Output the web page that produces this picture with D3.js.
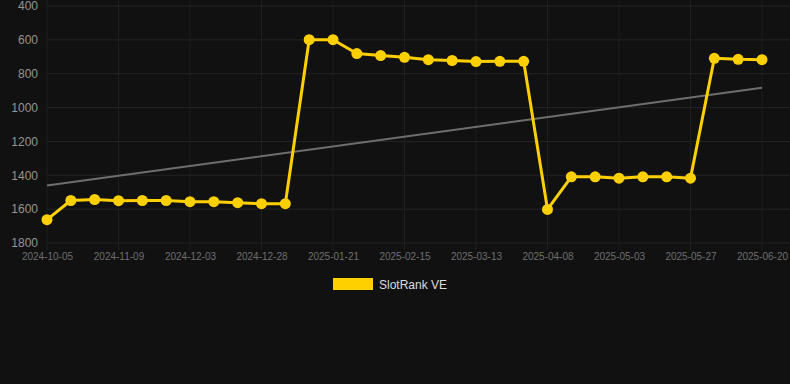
<!DOCTYPE html>
<html>
<head>
<meta charset="utf-8">
<script src="https://cdn.jsdelivr.net/npm/d3@7"></script>
<style>
    html, body { margin: 0; padding: 0; background: #111111; }
    svg { display: block; font-family: "Liberation Sans", Arial, sans-serif; }
</style>
</head>
<body>
<script>
// categories (one point per date, labels shown every third)
const dates = [
    '2024-10-05', '2024-10-17', '2024-10-29', '2024-11-09', '2024-11-17', '2024-11-25',
    '2024-12-03', '2024-12-11', '2024-12-19', '2024-12-28', '2025-01-05', '2025-01-13',
    '2025-01-21', '2025-01-29', '2025-02-06', '2025-02-15', '2025-02-23', '2025-03-04',
    '2025-03-13', '2025-03-21', '2025-03-30', '2025-04-08', '2025-04-16', '2025-04-25',
    '2025-05-03', '2025-05-11', '2025-05-19', '2025-05-27', '2025-06-04', '2025-06-12',
    '2025-06-20'
];

// rank values
const ranks = [
    1662, 1549, 1543, 1550, 1549, 1549, 1556, 1556, 1562, 1568, 1568,
    599, 599, 681, 693, 703, 717, 722, 728, 727, 727,
    1602, 1409, 1409, 1417, 1409, 1409, 1417,
    709, 715, 717
];

const xTickLabels = dates.filter((d, i) => i % 3 === 0);
const yTickValues = [400, 600, 800, 1000, 1200, 1400, 1600, 1800];
const seriesName = 'SlotRank VE';

drawChart();

function drawChart()
{
    const width = 790;
    const height = 384;
    const marginLeft = 47;
    const plotRight = 790;
    const lastX = 762;
    const marginTop = 6;
    const plotBottom = 243;

    const svg = d3.select('body')
        .append('svg')
        .attr('width', width)
        .attr('height', height);

    svg.append('rect')
        .attr('width', width)
        .attr('height', height)
        .attr('fill', '#111111');

    const x = d3.scalePoint().domain(dates).range([marginLeft, lastX]);
    const y = d3.scaleLinear().domain([400, 1800]).range([marginTop, plotBottom]);

    // horizontal grid lines
    svg.selectAll('line.h-grid')
        .data(yTickValues)
        .enter()
        .append('line')
        .attr('class', 'h-grid')
        .attr('x1', marginLeft)
        .attr('x2', plotRight)
        .attr('y1', d => y(d))
        .attr('y2', d => y(d))
        .attr('stroke', '#242424')
        .attr('stroke-width', 1);

    // vertical grid lines (with a small tick below the plot)
    svg.selectAll('line.v-grid')
        .data(xTickLabels)
        .enter()
        .append('line')
        .attr('class', 'v-grid')
        .attr('x1', d => x(d))
        .attr('x2', d => x(d))
        .attr('y1', 0)
        .attr('y2', plotBottom + 7)
        .attr('stroke', '#1f1f1f')
        .attr('stroke-width', 1);

    // y axis labels
    const yAxis = d3.axisLeft(y).tickValues(yTickValues).tickFormat(d3.format('d'))
        .tickSize(0).tickPadding(9);
    svg.append('g')
        .attr('transform', `translate(${marginLeft}, 0)`)
        .call(yAxis)
        .call(g => g.select('.domain').remove())
        .selectAll('text')
        .attr('fill', '#959595')
        .style('font-size', '12px');

    // x axis labels
    const xAxis = d3.axisBottom(x).tickValues(xTickLabels).tickSize(0).tickPadding(10);
    svg.append('g')
        .attr('transform', `translate(0, ${plotBottom})`)
        .call(xAxis)
        .call(g => g.select('.domain').remove())
        .selectAll('text')
        .attr('fill', '#6f6f6f')
        .style('font-size', '10px');

    // linear trend of the series
    const n = ranks.length;
    const meanI = d3.mean(ranks, (d, i) => i);
    const meanV = d3.mean(ranks);
    const slope = d3.sum(ranks, (d, i) => (i - meanI) * (d - meanV)) /
        d3.sum(ranks, (d, i) => (i - meanI) * (i - meanI));
    const trend = [0, n - 1].map(i => ({ date: dates[i], value: meanV + slope * (i - meanI) }));

    svg.append('path')
        .datum(trend)
        .attr('fill', 'none')
        .attr('stroke', '#6e6e6e')
        .attr('stroke-width', 2)
        .attr('d', d3.line().x(d => x(d.date)).y(d => y(d.value)));

    // series line
    const points = dates.map((d, i) => ({ date: d, value: ranks[i] }));
    svg.append('path')
        .datum(points)
        .attr('fill', 'none')
        .attr('stroke', '#ffd000')
        .attr('stroke-width', 3)
        .attr('stroke-linejoin', 'round')
        .attr('d', d3.line().x(d => x(d.date)).y(d => y(d.value)));

    svg.selectAll('circle.dot')
        .data(points)
        .enter()
        .append('circle')
        .attr('class', 'dot')
        .attr('cx', d => x(d.date))
        .attr('cy', d => y(d.value))
        .attr('r', 5.5)
        .attr('fill', '#ffd000');

    // legend
    const legend = svg.append('g').attr('transform', 'translate(333, 278)');
    legend.append('rect')
        .attr('width', 40)
        .attr('height', 12)
        .attr('fill', '#ffd000');
    legend.append('text')
        .attr('x', 46)
        .attr('y', 10.5)
        .attr('fill', '#dddddd')
        .style('font-size', '12px')
        .text(seriesName);
}
</script>
</body>
</html>
